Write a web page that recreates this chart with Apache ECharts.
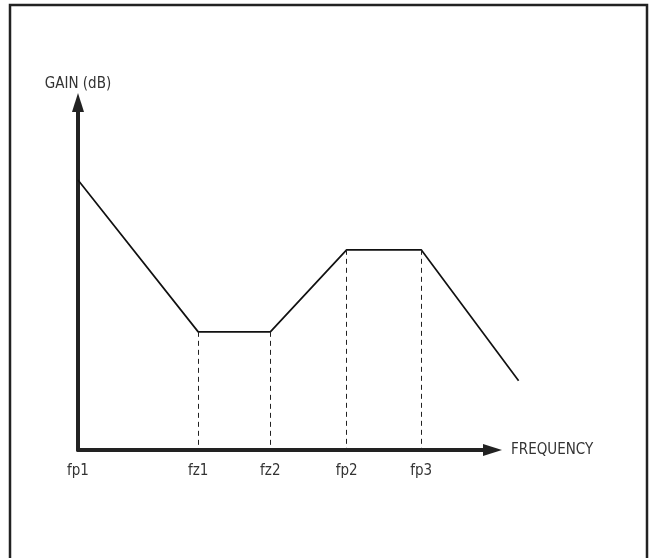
<!DOCTYPE html>
<html>
<head>
<meta charset="utf-8">
<script src="https://cdn.jsdelivr.net/npm/echarts@6/dist/echarts.min.js"></script>
<style>
html,body{margin:0;padding:0;background:#fff;}
#chart{width:650px;height:558px;}
</style>
</head>
<body>
<div id="chart"></div>
<script>
// Frequency tick names and their positions along the (arbitrary, log-like) frequency axis
const freqNames = ['fp1', 'fz1', 'fz2', 'fp2', 'fp3'];
const freqPos = [0, 29, 46.4, 64.8, 82.8];
// Gain curve (asymptotic Bode plot), arbitrary units
const curveX = [0, 29, 46.4, 64.8, 82.8, 106.3];
const curveY = [77.7, 34.0, 34.0, 57.6, 57.6, 19.9];
// Gain at each marked frequency (top of the dashed guide)
const guideGain = [null, 34.0, 34.0, 57.6, 57.6];

const FONT = "'DejaVu Sans Condensed', 'DejaVu Sans', sans-serif";
const chart = echarts.init(document.getElementById('chart'), null, {renderer: 'canvas'});

const curveData = curveX.map((x, i) => [x, curveY[i]]);
const guides = [];
for (let i = 1; i < freqPos.length; i++) {
  guides.push([{coord: [freqPos[i], guideGain[i]]}, {coord: [freqPos[i], 0]}]);
}

// px per unit on the frequency axis: 414.5 px / 100 units; second (hidden) grid uses the same scale, wider range
const PX = 414.5 / 100;

chart.setOption({
  animation: false,
  backgroundColor: '#fff',
  graphic: [{
    type: 'rect',
    shape: {x: 10, y: 5, width: 637, height: 620},
    style: {fill: 'none', stroke: '#222', lineWidth: 2.5},
    silent: true
  }],
  grid: [
    {left: 78, right: 157.5, top: 102.5, bottom: 108, containLabel: false},
    {left: 78, width: 120 * PX, top: 102.5, bottom: 108, containLabel: false}
  ],
  xAxis: [{
    type: 'value', min: 0, max: 100, gridIndex: 0,
    name: 'FREQUENCY', nameLocation: 'end', nameGap: 18.5,
    nameTextStyle: {fontFamily: FONT, fontSize: 15, color: '#333', align: 'left', verticalAlign: 'middle'},
    axisLine: {show: true, onZero: false, symbol: ['none', 'triangle'], symbolSize: [12, 19],
      lineStyle: {color: '#222', width: 4}},
    axisTick: {show: false},
    splitLine: {show: false},
    axisLabel: {show: true, customValues: freqPos, margin: 14,
      fontFamily: FONT, fontSize: 15, color: '#333',
      formatter: function (v) { const i = freqPos.indexOf(v); return i >= 0 ? freqNames[i] : ''; }}
  }, {
    type: 'value', min: 0, max: 120, gridIndex: 1, show: false
  }],
  yAxis: [{
    type: 'value', min: 0, max: 100, gridIndex: 0,
    name: 'GAIN (dB)', nameLocation: 'end', nameGap: 18,
    nameTextStyle: {fontFamily: FONT, fontSize: 15, color: '#333', align: 'center', verticalAlign: 'middle'},
    axisLine: {show: true, symbol: ['none', 'triangle'], symbolSize: [12, 19],
      lineStyle: {color: '#222', width: 4}},
    axisTick: {show: false},
    splitLine: {show: false},
    axisLabel: {show: false}
  }, {
    type: 'value', min: 0, max: 100, gridIndex: 1, show: false
  }],
  series: [{
    type: 'line',
    xAxisIndex: 1, yAxisIndex: 1,
    data: curveData,
    symbol: 'none',
    lineStyle: {color: '#111', width: 1.7},
    z: 3,
    markLine: {
      silent: true,
      symbol: ['none', 'none'],
      label: {show: false},
      lineStyle: {color: '#222', width: 1, type: [5, 4]},
      data: guides,
      animation: false
    }
  }]
});
</script>
</body>
</html>
